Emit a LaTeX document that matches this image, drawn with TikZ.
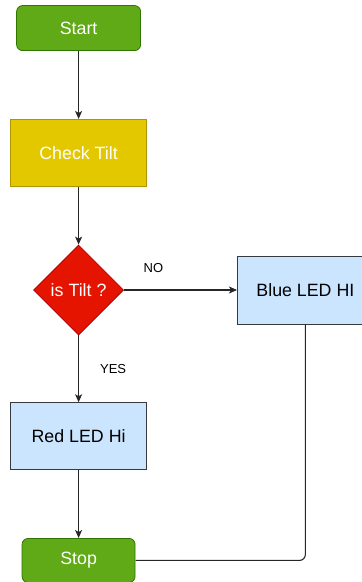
\documentclass[tikz,border=0pt]{standalone}
\usepackage{fontspec}
\setmainfont{Liberation Sans}
\usepackage{tikz}
\usetikzlibrary{matrix, shapes.geometric, arrows.meta}
\definecolor{termfill}{HTML}{60A917}
\definecolor{termline}{HTML}{2D7600}
\definecolor{checkfill}{HTML}{E3C800}
\definecolor{checkline}{HTML}{B09500}
\definecolor{decidefill}{HTML}{E51400}
\definecolor{decideline}{HTML}{B20000}
\definecolor{actfill}{HTML}{CCE5FF}
\definecolor{actline}{HTML}{36393D}

\begin{document}
\begin{tikzpicture}[x=1pt, y=1pt, >={Stealth[length=8pt, width=7pt, inset=2pt]},
    box/.style={draw, line width=0.8pt, inner sep=0pt, font=\fontsize{17.8pt}{20pt}\selectfont},
    term/.style={box, fill=termfill, draw=termline, text=white, rounded corners=6pt, minimum height=45pt},
    check/.style={box, fill=checkfill, draw=checkline, text=white, minimum width=136pt, minimum height=67pt},
    decide/.style={box, diamond, fill=decidefill, draw=decideline, text=white, minimum width=90pt, minimum height=90pt},
    action/.style={box, fill=actfill, draw=actline, text=black, minimum width=136pt, minimum height=68pt},
    conn/.style={line width=1.1pt, draw=black!85},
    lbl/.style={inner sep=0pt, font=\fontsize{13pt}{15pt}\selectfont}]
    \useasboundingbox (0,0) rectangle (362,-582);
    % Lay out the flowchart as a matrix
    \matrix (m) at (192,-294) [matrix of nodes, row sep=58pt, column sep=90pt, ampersand replacement=\&, cells={nodes={anchor=center}}]{
    |[term, minimum width=124pt]| Start \& \\[10pt]
    |[check]| Check Tilt \& \\
    |[decide]| is Tilt ? \& |[action]| Blue LED HI \\[9pt]
    |[action, minimum height=67pt]| Red LED Hi \& \\[10pt]
    |[term, minimum width=113pt, minimum height=44pt]| Stop \& \\
    };

    % Draw the connectors
    \draw[conn, ->] (m-1-1) -- (m-2-1);
    \draw[conn, ->] (m-2-1) -- (m-3-1);
    \draw[conn, ->] (m-3-1) -- node[lbl, pos=.26, above=17pt] {NO} (m-3-2); % false branch
    \draw[conn, ->] (m-3-1) -- node[lbl, midway, right=21pt] {YES} (m-4-1); % true branch
    \draw[conn, ->] (m-4-1) -- (m-5-1);
    \draw[conn, rounded corners=6pt] (m-3-2) |- (m-5-1);
\end{tikzpicture}
\end{document}
